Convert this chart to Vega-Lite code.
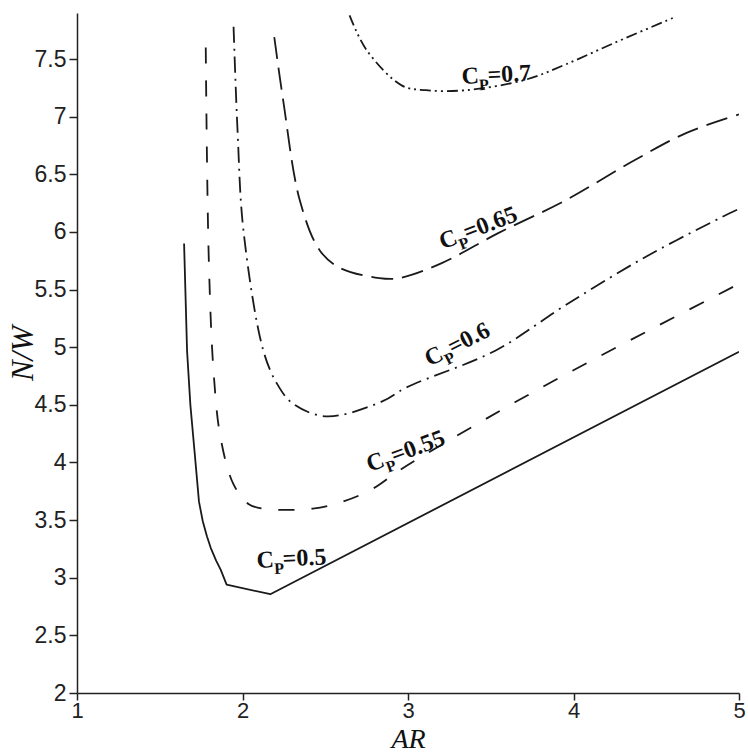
{
  "$schema": "https://vega.github.io/schema/vega-lite/v6.json",
  "width": 662,
  "height": 680,
  "autosize": {"type": "none"},
  "padding": {"left": 77, "top": 13, "right": 9, "bottom": 60},
  "background": "white",
  "config": {
    "view": {"stroke": null},
    "axis": {
      "grid": false,
      "domainColor": "#222",
      "domainWidth": 1.5,
      "tickColor": "#222",
      "tickWidth": 1.5,
      "tickSize": 8,
      "labelFont": "Liberation Sans",
      "labelFontSize": 23,
      "labelColor": "#222",
      "titleFont": "Liberation Serif",
      "titleFontStyle": "italic",
      "titleFontWeight": "normal",
      "titleFontSize": 28,
      "titleColor": "#111"
    }
  },
  "datasets": {
    "curves": [
      {"cp": "0.5", "i": 0, "ar": 1.647, "nw": 5.90},
      {"cp": "0.5", "i": 1, "ar": 1.665, "nw": 4.97},
      {"cp": "0.5", "i": 2, "ar": 1.685, "nw": 4.50},
      {"cp": "0.5", "i": 3, "ar": 1.710, "nw": 4.10},
      {"cp": "0.5", "i": 4, "ar": 1.737, "nw": 3.66},
      {"cp": "0.5", "i": 5, "ar": 1.760, "nw": 3.49},
      {"cp": "0.5", "i": 6, "ar": 1.785, "nw": 3.36},
      {"cp": "0.5", "i": 7, "ar": 1.808, "nw": 3.26},
      {"cp": "0.5", "i": 8, "ar": 1.840, "nw": 3.15},
      {"cp": "0.5", "i": 9, "ar": 1.868, "nw": 3.07},
      {"cp": "0.5", "i": 10, "ar": 1.904, "nw": 2.94},
      {"cp": "0.5", "i": 11, "ar": 2.168, "nw": 2.857},
      {"cp": "0.5", "i": 12, "ar": 5.0, "nw": 4.96},

      {"cp": "0.55", "i": 0, "ar": 1.778, "nw": 7.60},
      {"cp": "0.55", "i": 1, "ar": 1.796, "nw": 5.78},
      {"cp": "0.55", "i": 2, "ar": 1.826, "nw": 4.77},
      {"cp": "0.55", "i": 3, "ar": 1.868, "nw": 4.21},
      {"cp": "0.55", "i": 4, "ar": 1.946, "nw": 3.81},
      {"cp": "0.55", "i": 5, "ar": 2.036, "nw": 3.64},
      {"cp": "0.55", "i": 6, "ar": 2.12, "nw": 3.60},
      {"cp": "0.55", "i": 7, "ar": 2.425, "nw": 3.60},
      {"cp": "0.55", "i": 8, "ar": 2.605, "nw": 3.66},
      {"cp": "0.55", "i": 9, "ar": 2.784, "nw": 3.77},
      {"cp": "0.55", "i": 10, "ar": 2.946, "nw": 3.93},
      {"cp": "0.55", "i": 11, "ar": 3.246, "nw": 4.19},
      {"cp": "0.55", "i": 12, "ar": 3.743, "nw": 4.60},
      {"cp": "0.55", "i": 13, "ar": 4.341, "nw": 5.06},
      {"cp": "0.55", "i": 14, "ar": 5.0, "nw": 5.55},

      {"cp": "0.6", "i": 0, "ar": 1.946, "nw": 7.78},
      {"cp": "0.6", "i": 1, "ar": 1.970, "nw": 6.88},
      {"cp": "0.6", "i": 2, "ar": 2.006, "nw": 6.01},
      {"cp": "0.6", "i": 3, "ar": 2.126, "nw": 4.97},
      {"cp": "0.6", "i": 4, "ar": 2.21, "nw": 4.68},
      {"cp": "0.6", "i": 5, "ar": 2.305, "nw": 4.51},
      {"cp": "0.6", "i": 6, "ar": 2.509, "nw": 4.40},
      {"cp": "0.6", "i": 7, "ar": 2.844, "nw": 4.53},
      {"cp": "0.6", "i": 8, "ar": 2.988, "nw": 4.65},
      {"cp": "0.6", "i": 9, "ar": 3.527, "nw": 4.97},
      {"cp": "0.6", "i": 10, "ar": 3.946, "nw": 5.36},
      {"cp": "0.6", "i": 11, "ar": 4.443, "nw": 5.79},
      {"cp": "0.6", "i": 12, "ar": 4.94, "nw": 6.16},
      {"cp": "0.6", "i": 13, "ar": 5.0, "nw": 6.20},

      {"cp": "0.65", "i": 0, "ar": 2.192, "nw": 7.69},
      {"cp": "0.65", "i": 1, "ar": 2.246, "nw": 7.14},
      {"cp": "0.65", "i": 2, "ar": 2.347, "nw": 6.27},
      {"cp": "0.65", "i": 3, "ar": 2.467, "nw": 5.84},
      {"cp": "0.65", "i": 4, "ar": 2.587, "nw": 5.69},
      {"cp": "0.65", "i": 5, "ar": 2.826, "nw": 5.60},
      {"cp": "0.65", "i": 6, "ar": 2.946, "nw": 5.60},
      {"cp": "0.65", "i": 7, "ar": 3.204, "nw": 5.73},
      {"cp": "0.65", "i": 8, "ar": 3.545, "nw": 5.99},
      {"cp": "0.65", "i": 9, "ar": 3.946, "nw": 6.27},
      {"cp": "0.65", "i": 10, "ar": 4.341, "nw": 6.60},
      {"cp": "0.65", "i": 11, "ar": 4.683, "nw": 6.86},
      {"cp": "0.65", "i": 12, "ar": 5.0, "nw": 7.02},

      {"cp": "0.7", "i": 0, "ar": 2.647, "nw": 7.88},
      {"cp": "0.7", "i": 1, "ar": 2.749, "nw": 7.58},
      {"cp": "0.7", "i": 2, "ar": 2.964, "nw": 7.27},
      {"cp": "0.7", "i": 3, "ar": 3.108, "nw": 7.23},
      {"cp": "0.7", "i": 4, "ar": 3.347, "nw": 7.23},
      {"cp": "0.7", "i": 5, "ar": 3.707, "nw": 7.32},
      {"cp": "0.7", "i": 6, "ar": 3.946, "nw": 7.45},
      {"cp": "0.7", "i": 7, "ar": 4.246, "nw": 7.64},
      {"cp": "0.7", "i": 8, "ar": 4.605, "nw": 7.86}
    ],
    "labels": [
      {"cp": "0.7", "ar": 3.326, "nw": 7.283, "sym": "C", "sub": "P", "rest": "=0.7"},
      {"cp": "0.65", "ar": 3.21, "nw": 5.848, "sym": "C", "sub": "P", "rest": "=0.65"},
      {"cp": "0.6", "ar": 3.13, "nw": 4.83, "sym": "C", "sub": "P", "rest": "=0.6"},
      {"cp": "0.55", "ar": 2.769, "nw": 3.917, "sym": "C", "sub": "P", "rest": "=0.55"},
      {"cp": "0.5", "ar": 2.088, "nw": 3.085, "sym": "C", "sub": "P", "rest": "=0.5"}
    ]
  },
  "encoding": {
    "x": {"field": "ar", "type": "quantitative", "scale": {"domain": [1, 5], "nice": false, "zero": false},
          "axis": {"title": "AR", "values": [1, 2, 3, 4, 5], "labelFlush": false, "labelPadding": 0, "labelFontSize": 22, "tickSize": 7, "titleY": 60, "titleBaseline": "bottom", "titleFontSize": 28}},
    "y": {"field": "nw", "type": "quantitative", "scale": {"domain": [2, 7.9], "nice": false, "zero": false},
          "axis": {"title": "N/W", "values": [2, 2.5, 3, 3.5, 4, 4.5, 5, 5.5, 6, 6.5, 7, 7.5], "format": "~g", "labelPadding": 3, "titleX": -45, "titleBaseline": "alphabetic", "titleFontSize": 31}}
  },
  "layer": [
    {
      "data": {"name": "curves"},
      "transform": [{"filter": "datum.cp == '0.5'"}],
      "mark": {"type": "line", "interpolate": "linear", "strokeWidth": 1.8, "color": "#1a1a1a", "clip": true, "strokeJoin": "round"},
      "encoding": {
        "order": {"field": "i", "type": "quantitative"}
      }
    },
    {
      "data": {"name": "curves"},
      "transform": [{"filter": "datum.cp != '0.5'"}],
      "mark": {"type": "line", "interpolate": "catmull-rom", "strokeWidth": 1.8, "color": "#1a1a1a", "clip": true, "strokeCap": "butt"},
      "encoding": {
        "detail": {"field": "cp"},
        "order": {"field": "i", "type": "quantitative"},
        "strokeDash": {"field": "cp", "type": "nominal", "legend": null,
                       "scale": {"domain": ["0.55", "0.6", "0.65", "0.7"], "range": [[16, 17], [16, 6, 2, 6], [22, 9], [11, 4, 2, 4, 2, 4]]}}
      }
    },
    {
      "data": {"name": "labels"},
      "transform": [{"filter": "datum.cp == '0.7'"}],
      "layer": [
        {"mark": {"type": "text", "font": "Liberation Serif", "fontWeight": "bold", "fontSize": 24, "align": "left", "baseline": "alphabetic", "angle": -3, "color": "#111"}, "encoding": {"text": {"field": "sym"}}},
        {"mark": {"type": "text", "font": "Liberation Serif", "fontWeight": "bold", "fontSize": 16, "align": "left", "baseline": "alphabetic", "angle": -3, "dx": 17, "dy": 7, "color": "#111"}, "encoding": {"text": {"field": "sub"}}},
        {"mark": {"type": "text", "font": "Liberation Serif", "fontWeight": "bold", "fontSize": 24, "align": "left", "baseline": "alphabetic", "angle": -3, "dx": 26, "color": "#111"}, "encoding": {"text": {"field": "rest"}}}
      ]
    },
    {
      "data": {"name": "labels"},
      "transform": [{"filter": "datum.cp == '0.65'"}],
      "layer": [
        {"mark": {"type": "text", "font": "Liberation Serif", "fontWeight": "bold", "fontSize": 24, "align": "left", "baseline": "alphabetic", "angle": -21, "color": "#111"}, "encoding": {"text": {"field": "sym"}}},
        {"mark": {"type": "text", "font": "Liberation Serif", "fontWeight": "bold", "fontSize": 16, "align": "left", "baseline": "alphabetic", "angle": -21, "dx": 17, "dy": 7, "color": "#111"}, "encoding": {"text": {"field": "sub"}}},
        {"mark": {"type": "text", "font": "Liberation Serif", "fontWeight": "bold", "fontSize": 24, "align": "left", "baseline": "alphabetic", "angle": -21, "dx": 26, "color": "#111"}, "encoding": {"text": {"field": "rest"}}}
      ]
    },
    {
      "data": {"name": "labels"},
      "transform": [{"filter": "datum.cp == '0.6'"}],
      "layer": [
        {"mark": {"type": "text", "font": "Liberation Serif", "fontWeight": "bold", "fontSize": 24, "align": "left", "baseline": "alphabetic", "angle": -27, "color": "#111"}, "encoding": {"text": {"field": "sym"}}},
        {"mark": {"type": "text", "font": "Liberation Serif", "fontWeight": "bold", "fontSize": 16, "align": "left", "baseline": "alphabetic", "angle": -27, "dx": 17, "dy": 7, "color": "#111"}, "encoding": {"text": {"field": "sub"}}},
        {"mark": {"type": "text", "font": "Liberation Serif", "fontWeight": "bold", "fontSize": 24, "align": "left", "baseline": "alphabetic", "angle": -27, "dx": 26, "color": "#111"}, "encoding": {"text": {"field": "rest"}}}
      ]
    },
    {
      "data": {"name": "labels"},
      "transform": [{"filter": "datum.cp == '0.55'"}],
      "layer": [
        {"mark": {"type": "text", "font": "Liberation Serif", "fontWeight": "bold", "fontSize": 24, "align": "left", "baseline": "alphabetic", "angle": -20, "color": "#111"}, "encoding": {"text": {"field": "sym"}}},
        {"mark": {"type": "text", "font": "Liberation Serif", "fontWeight": "bold", "fontSize": 16, "align": "left", "baseline": "alphabetic", "angle": -20, "dx": 17, "dy": 7, "color": "#111"}, "encoding": {"text": {"field": "sub"}}},
        {"mark": {"type": "text", "font": "Liberation Serif", "fontWeight": "bold", "fontSize": 24, "align": "left", "baseline": "alphabetic", "angle": -20, "dx": 26, "color": "#111"}, "encoding": {"text": {"field": "rest"}}}
      ]
    },
    {
      "data": {"name": "labels"},
      "transform": [{"filter": "datum.cp == '0.5'"}],
      "layer": [
        {"mark": {"type": "text", "font": "Liberation Serif", "fontWeight": "bold", "fontSize": 24, "align": "left", "baseline": "alphabetic", "angle": -3, "color": "#111"}, "encoding": {"text": {"field": "sym"}}},
        {"mark": {"type": "text", "font": "Liberation Serif", "fontWeight": "bold", "fontSize": 16, "align": "left", "baseline": "alphabetic", "angle": -3, "dx": 17, "dy": 7, "color": "#111"}, "encoding": {"text": {"field": "sub"}}},
        {"mark": {"type": "text", "font": "Liberation Serif", "fontWeight": "bold", "fontSize": 24, "align": "left", "baseline": "alphabetic", "angle": -3, "dx": 26, "color": "#111"}, "encoding": {"text": {"field": "rest"}}}
      ]
    }
  ]
}
